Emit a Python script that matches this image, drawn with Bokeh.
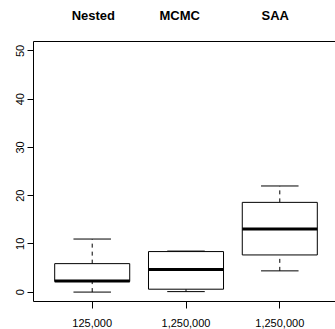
from bokeh.plotting import figure
from bokeh.models import Range1d, LinearAxis, FixedTicker, ColumnDataSource
from bokeh.embed import file_html
from bokeh.resources import INLINE

# Data
groups = ["Nested", "MCMC", "SAA"]
sizes = ["125,000", "1,250,000", "1,250,000"]
positions = [1, 2, 3]
title_pos = [1.012, 1.933, 2.951]
whisker_low = [0.0, 0.1, 4.4]
q1 = [2.2, 0.6, 7.7]
median = [2.3, 4.7, 13.1]
q3 = [5.9, 8.4, 18.6]
whisker_high = [11.0, 8.5, 22.0]
y_ticks = [0, 10, 20, 30, 40, 50]

half_box = 0.4
half_cap = 0.2

src = ColumnDataSource(dict(
    x=positions,
    left=[p - half_box for p in positions],
    right=[p + half_box for p in positions],
    cap_l=[p - half_cap for p in positions],
    cap_r=[p + half_cap for p in positions],
    lo=whisker_low, q1=q1, med=median, q3=q3, hi=whisker_high,
))

p = figure(width=335, height=329, output_backend="svg", toolbar_location=None,
           x_range=Range1d(0.374, 3.594), y_range=Range1d(-1.95, 51.95),
           x_axis_location=None, y_axis_location=None,
           min_border_left=33, min_border_right=0, min_border_top=41, min_border_bottom=26)
p.xgrid.visible = False
p.ygrid.visible = False
p.outline_line_color = None
p.background_fill_color = "white"
p.border_fill_color = "white"

FONT = "Liberation Sans"

# left axis
ya = LinearAxis(ticker=FixedTicker(ticks=y_ticks))
ya.major_tick_out = 6
ya.major_tick_in = 0
ya.minor_tick_out = 0
ya.minor_tick_in = 0
ya.major_label_orientation = "vertical"
ya.major_label_standoff = 3
ya.major_label_text_font = FONT
ya.major_label_text_font_size = "11px"
ya.major_label_text_color = "black"
ya.axis_line_color = "black"
ya.major_tick_line_color = "black"
p.add_layout(ya, "left")

# bottom axis
xa = LinearAxis(ticker=FixedTicker(ticks=positions),
                major_label_overrides={pos: s for pos, s in zip(positions, sizes)})
xa.major_tick_out = 7
xa.major_tick_in = 0
xa.minor_tick_out = 0
xa.minor_tick_in = 0
xa.major_label_standoff = 10
xa.major_label_text_font = FONT
xa.major_label_text_font_size = "11px"
xa.major_label_text_color = "black"
xa.axis_line_color = "black"
p.add_layout(xa, "below")

# top axis with group names
ta = LinearAxis(ticker=FixedTicker(ticks=title_pos),
                major_label_overrides={pos: g for pos, g in zip(title_pos, groups)})
ta.major_tick_out = 0
ta.major_tick_in = 0
ta.minor_tick_out = 0
ta.minor_tick_in = 0
ta.major_label_standoff = 19
ta.major_label_text_font = FONT
ta.major_label_text_font_style = "bold"
ta.major_label_text_font_size = "13px"
ta.major_label_text_color = "black"
ta.axis_line_color = "black"
p.add_layout(ta, "above")

# whiskers
p.segment(x0="x", y0="q3", x1="x", y1="hi", source=src, line_color="black",
          line_width=1, line_dash="4 4")
p.segment(x0="x", y0="lo", x1="x", y1="q1", source=src, line_color="black",
          line_width=1, line_dash="4 4")
# caps
p.segment(x0="cap_l", y0="hi", x1="cap_r", y1="hi", source=src, line_color="black", line_width=1)
p.segment(x0="cap_l", y0="lo", x1="cap_r", y1="lo", source=src, line_color="black", line_width=1)
# boxes
p.quad(left="left", right="right", bottom="q1", top="q3", source=src,
       fill_color="white", line_color="black", line_width=1)
# medians
p.segment(x0="left", y0="med", x1="right", y1="med", source=src, line_color="black", line_width=3)

open("out.html", "w").write(file_html(p, INLINE))
